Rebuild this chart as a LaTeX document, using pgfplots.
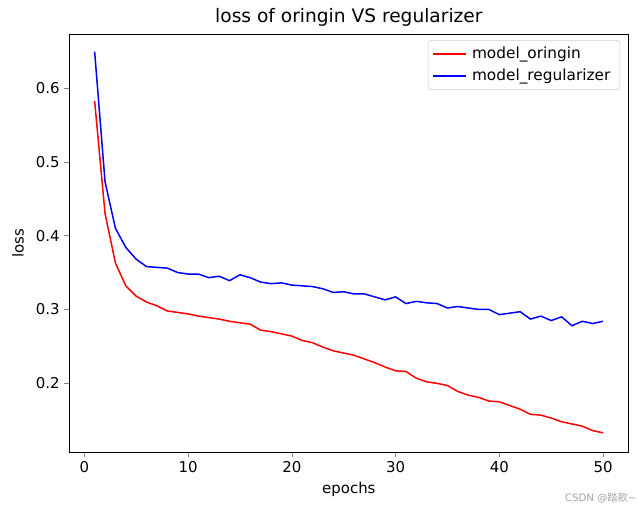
\documentclass[border=0pt]{standalone}
\usepackage{pgfplots}
\pgfplotsset{compat=1.18}
\usepackage{fontspec}
\setmainfont{DejaVu Sans}
\newfontfamily\cjk{Noto Sans CJK SC}

\begin{document}
\begin{tikzpicture}[x=1pt,y=1pt]
\path[use as bounding box] (-51,-39) rectangle (419,333);
\begin{axis}[
at={(0,0)}, anchor=south west,
scale only axis,
width=412pt, height=308pt,
font=\fontsize{11}{13}\selectfont,
title={loss of oringin VS regularizer},
title style={font=\fontsize{13.7}{16}\selectfont, yshift=-4pt},
xlabel={epochs}, ylabel={loss},
xlabel style={yshift=0pt}, ylabel style={yshift=2pt},
xmin=-1.45, xmax=52.45,
ymin=0.107, ymax=0.673,
xtick={0,10,20,30,40,50},
ytick={0.2,0.3,0.4,0.5,0.6},
yticklabel style={/pgf/number format/fixed, /pgf/number format/precision=1},
/pgf/number format/assume math mode=true,
tick align=outside, tick pos=left,
major tick length=3.5pt,
axis line style={black, line width=0.6pt},
legend cell align={left},
legend image code/.code={\draw[#1, line width=1.3pt] (0pt,0pt) -- (24pt,0pt);},
legend style={at={(0.985,0.985)}, anchor=north east, draw=black!20, rounded corners=2pt,
  font=\fontsize{11.3}{13}\selectfont, row sep=2pt, inner xsep=3pt, inner ysep=3pt,
  nodes={inner xsep=4pt}},
]
\addplot[red, line width=1.1pt] coordinates {
(1,0.582) (2,0.430) (3,0.363) (4,0.332) (5,0.318) (6,0.310) (7,0.305) (8,0.298) (9,0.296) (10,0.294)
(11,0.291) (12,0.289) (13,0.287) (14,0.284) (15,0.282) (16,0.280) (17,0.272) (18,0.270) (19,0.267) (20,0.264)
(21,0.258) (22,0.255) (23,0.249) (24,0.244) (25,0.241) (26,0.238) (27,0.233) (28,0.228) (29,0.222) (30,0.217)
(31,0.216) (32,0.207) (33,0.202) (34,0.200) (35,0.197) (36,0.189) (37,0.184) (38,0.181) (39,0.176) (40,0.175)
(41,0.170) (42,0.165) (43,0.158) (44,0.157) (45,0.153) (46,0.148) (47,0.145) (48,0.142) (49,0.136) (50,0.133)
};
\addlegendentry{model\_oringin}
\addplot[blue, line width=1.1pt] coordinates {
(1,0.649) (2,0.473) (3,0.410) (4,0.384) (5,0.368) (6,0.358) (7,0.357) (8,0.356) (9,0.350) (10,0.348)
(11,0.348) (12,0.343) (13,0.345) (14,0.339) (15,0.347) (16,0.343) (17,0.337) (18,0.335) (19,0.336) (20,0.333)
(21,0.332) (22,0.331) (23,0.328) (24,0.323) (25,0.324) (26,0.321) (27,0.321) (28,0.317) (29,0.313) (30,0.317)
(31,0.308) (32,0.311) (33,0.309) (34,0.308) (35,0.302) (36,0.304) (37,0.302) (38,0.300) (39,0.300) (40,0.293)
(41,0.295) (42,0.297) (43,0.287) (44,0.291) (45,0.285) (46,0.290) (47,0.278) (48,0.284) (49,0.281) (50,0.284)
};
\addlegendentry{model\_regularizer}
\end{axis}
\node[anchor=south east, text=black!35, font=\fontsize{7.5}{8}\selectfont, inner sep=1pt] at (419,-39) {CSDN @{\cjk 踏歌}\textasciitilde};
\end{tikzpicture}
\end{document}
